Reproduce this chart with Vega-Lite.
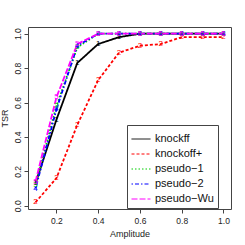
{
  "$schema": "https://vega.github.io/schema/vega-lite/v6.json",
  "autosize": "none",
  "width": 203,
  "height": 182,
  "padding": {"left": 28, "top": 27, "right": 14, "bottom": 36},
  "background": "white",
  "config": {
    "font": "Liberation Sans",
    "view": {"stroke": "#444", "strokeWidth": 1}
  },
  "data": {
    "values": [
      {"amp": 0.1, "tsr": 0.13, "method": "knockff"},
      {"amp": 0.2, "tsr": 0.50, "method": "knockff"},
      {"amp": 0.3, "tsr": 0.83, "method": "knockff"},
      {"amp": 0.4, "tsr": 0.94, "method": "knockff"},
      {"amp": 0.5, "tsr": 0.98, "method": "knockff"},
      {"amp": 0.6, "tsr": 1.0, "method": "knockff"},
      {"amp": 0.7, "tsr": 1.0, "method": "knockff"},
      {"amp": 0.8, "tsr": 1.0, "method": "knockff"},
      {"amp": 0.9, "tsr": 1.0, "method": "knockff"},
      {"amp": 1.0, "tsr": 1.0, "method": "knockff"},
      {"amp": 0.1, "tsr": 0.02, "method": "knockoff+"},
      {"amp": 0.2, "tsr": 0.16, "method": "knockoff+"},
      {"amp": 0.3, "tsr": 0.47, "method": "knockoff+"},
      {"amp": 0.4, "tsr": 0.73, "method": "knockoff+"},
      {"amp": 0.5, "tsr": 0.89, "method": "knockoff+"},
      {"amp": 0.6, "tsr": 0.93, "method": "knockoff+"},
      {"amp": 0.7, "tsr": 0.94, "method": "knockoff+"},
      {"amp": 0.8, "tsr": 0.98, "method": "knockoff+"},
      {"amp": 0.9, "tsr": 0.98, "method": "knockoff+"},
      {"amp": 1.0, "tsr": 0.98, "method": "knockoff+"},
      {"amp": 0.1, "tsr": 0.12, "method": "pseudo\u22121"},
      {"amp": 0.2, "tsr": 0.58, "method": "pseudo\u22121"},
      {"amp": 0.3, "tsr": 0.92, "method": "pseudo\u22121"},
      {"amp": 0.4, "tsr": 1.0, "method": "pseudo\u22121"},
      {"amp": 0.5, "tsr": 1.0, "method": "pseudo\u22121"},
      {"amp": 0.6, "tsr": 1.0, "method": "pseudo\u22121"},
      {"amp": 0.7, "tsr": 1.0, "method": "pseudo\u22121"},
      {"amp": 0.8, "tsr": 1.0, "method": "pseudo\u22121"},
      {"amp": 0.9, "tsr": 1.0, "method": "pseudo\u22121"},
      {"amp": 1.0, "tsr": 1.0, "method": "pseudo\u22121"},
      {"amp": 0.1, "tsr": 0.10, "method": "pseudo\u22122"},
      {"amp": 0.2, "tsr": 0.56, "method": "pseudo\u22122"},
      {"amp": 0.3, "tsr": 0.93, "method": "pseudo\u22122"},
      {"amp": 0.4, "tsr": 1.0, "method": "pseudo\u22122"},
      {"amp": 0.5, "tsr": 1.0, "method": "pseudo\u22122"},
      {"amp": 0.6, "tsr": 1.0, "method": "pseudo\u22122"},
      {"amp": 0.7, "tsr": 1.0, "method": "pseudo\u22122"},
      {"amp": 0.8, "tsr": 1.0, "method": "pseudo\u22122"},
      {"amp": 0.9, "tsr": 1.0, "method": "pseudo\u22122"},
      {"amp": 1.0, "tsr": 1.0, "method": "pseudo\u22122"},
      {"amp": 0.1, "tsr": 0.14, "method": "pseudo\u2212Wu"},
      {"amp": 0.2, "tsr": 0.63, "method": "pseudo\u2212Wu"},
      {"amp": 0.3, "tsr": 0.94, "method": "pseudo\u2212Wu"},
      {"amp": 0.4, "tsr": 1.0, "method": "pseudo\u2212Wu"},
      {"amp": 0.5, "tsr": 1.0, "method": "pseudo\u2212Wu"},
      {"amp": 0.6, "tsr": 1.0, "method": "pseudo\u2212Wu"},
      {"amp": 0.7, "tsr": 1.0, "method": "pseudo\u2212Wu"},
      {"amp": 0.8, "tsr": 1.0, "method": "pseudo\u2212Wu"},
      {"amp": 0.9, "tsr": 1.0, "method": "pseudo\u2212Wu"},
      {"amp": 1.0, "tsr": 1.0, "method": "pseudo\u2212Wu"}
    ]
  },
  "transform": [
    {"calculate": "indexof(['knockff','knockoff+','pseudo\u22121','pseudo\u22122','pseudo\u2212Wu'], datum.method) + 1", "as": "pch"}
  ],
  "encoding": {
    "x": {
      "field": "amp", "type": "quantitative",
      "scale": {"domain": [0.064, 1.036], "nice": false, "zero": false},
      "axis": {
        "title": "Amplitude", "values": [0.2, 0.4, 0.6, 0.8, 1.0], "format": ".1f",
        "grid": false, "domain": false, "tickColor": "#444", "tickSize": 4,
        "labelFontSize": 8.5, "labelColor": "#222", "labelPadding": 3, "labelOverlap": false,
        "titleFontSize": 9, "titleFontWeight": "normal", "titleColor": "#222", "titlePadding": 5
      }
    },
    "y": {
      "field": "tsr", "type": "quantitative",
      "scale": {"domain": [-0.019, 1.039], "nice": false, "zero": false},
      "axis": {
        "title": "TSR", "values": [0, 0.2, 0.4, 0.6, 0.8, 1.0], "format": ".1f",
        "grid": false, "domain": false, "tickColor": "#444", "tickSize": 4,
        "labelAngle": -90, "labelAlign": "center", "labelBaseline": "bottom",
        "labelFontSize": 8.5, "labelColor": "#222", "labelPadding": 2,
        "labelOverlap": false, "labelBound": false,
        "titleFontSize": 9, "titleFontWeight": "normal", "titleColor": "#222", "titlePadding": 4
      }
    },
    "color": {
      "field": "method", "type": "nominal",
      "scale": {
        "domain": ["knockff", "knockoff+", "pseudo\u22121", "pseudo\u22122", "pseudo\u2212Wu"],
        "range": ["#000000", "#FF0000", "#00CD00", "#0000FF", "#FF00FF"]
      },
      "legend": {
        "title": null, "orient": "none", "legendX": 99, "legendY": 98,
        "strokeColor": "#444", "padding": 4, "fillColor": "white",
        "symbolType": "stroke", "symbolSize": 360, "symbolStrokeWidth": 1,
        "labelFontSize": 11, "labelColor": "#111", "labelOffset": 4,
        "rowPadding": -10, "symbolOpacity": 1,
        "encode": {
          "symbols": {
            "update": {
              "strokeDash": {"scale": "strokeDash", "field": "value"}
            }
          }
        }
      }
    }
  },
  "layer": [
    {
      "mark": {"type": "line", "strokeWidth": 1.8},
      "encoding": {
        "strokeDash": {
          "field": "method", "type": "nominal",
          "scale": {
            "domain": ["knockff", "knockoff+", "pseudo\u22121", "pseudo\u22122", "pseudo\u2212Wu"],
            "range": [[1, 0], [3, 2], [1.5, 2], [1.5, 2, 4, 2], [6, 2]]
          },
          "legend": null
        }
      }
    },
    {
      "mark": {"type": "text", "fontSize": 8, "baseline": "middle", "align": "center"},
      "encoding": {
        "text": {"field": "pch", "type": "quantitative"}
      }
    }
  ]
}
